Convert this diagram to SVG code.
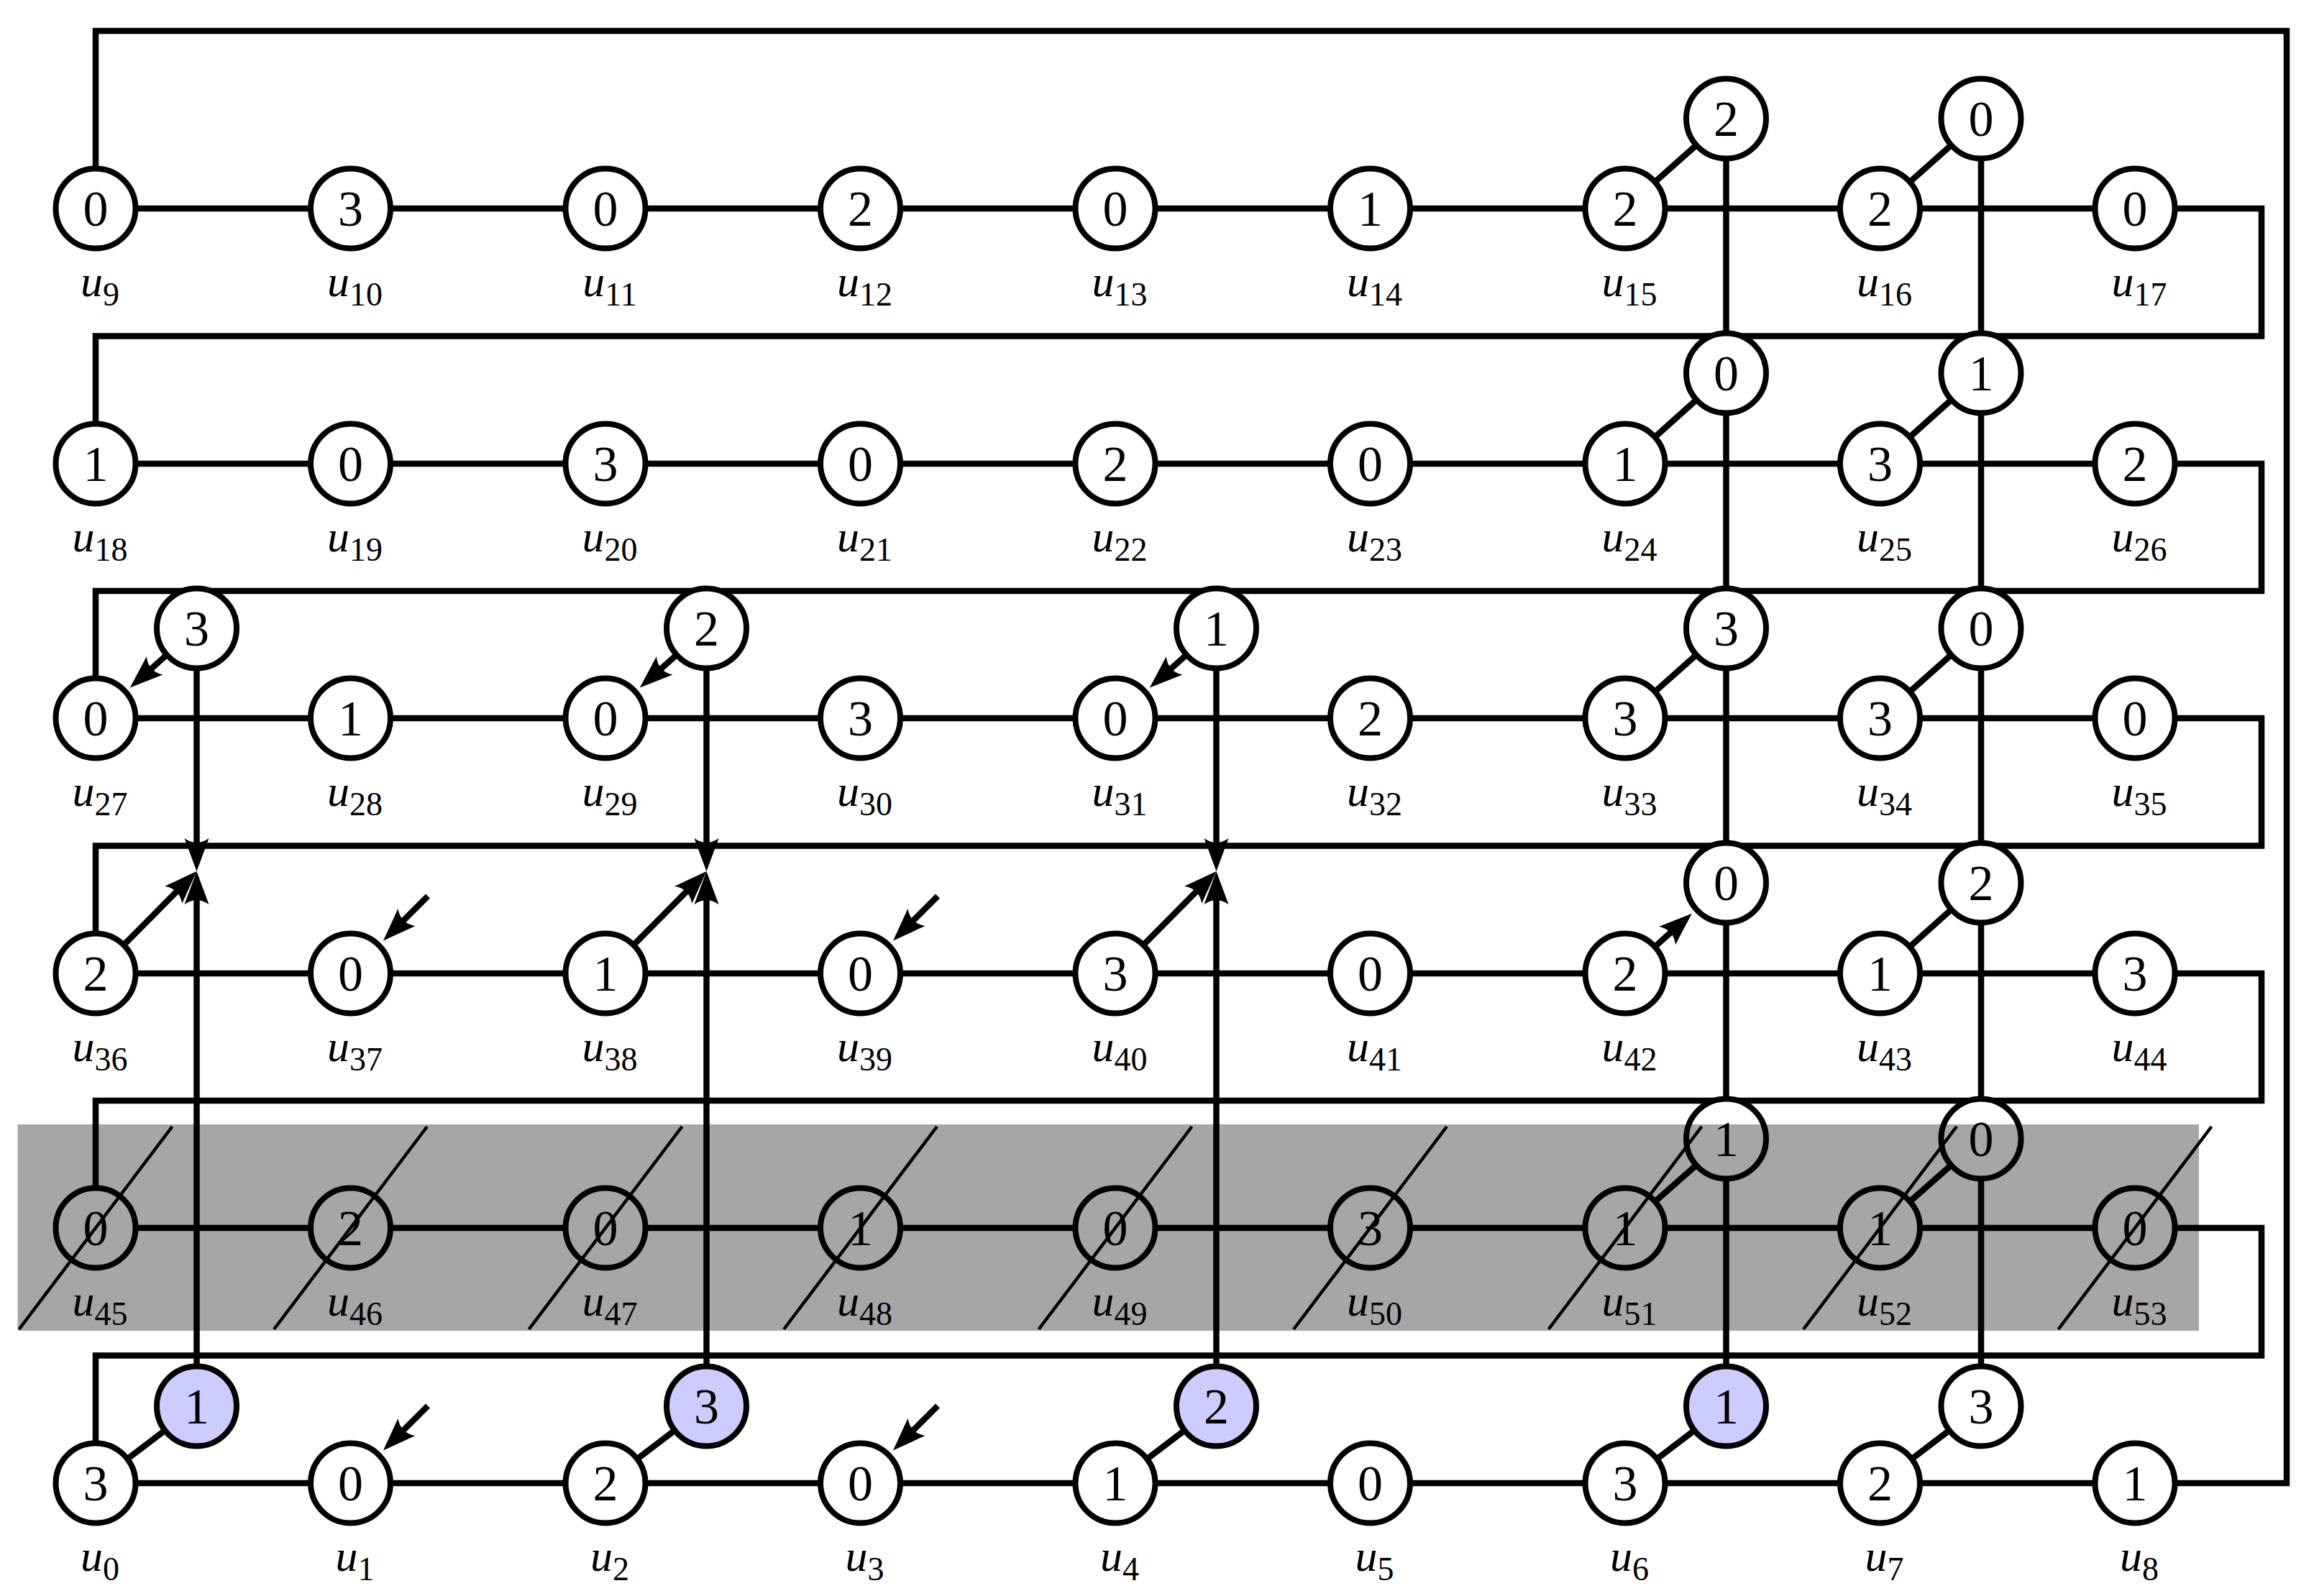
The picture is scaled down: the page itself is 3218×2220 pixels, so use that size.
<svg xmlns="http://www.w3.org/2000/svg" width="3218" height="2220" viewBox="0 0 3218 2220">
<style>
.ln{fill:none;stroke:#000;stroke-width:8.5;stroke-linejoin:miter;stroke-linecap:butt}
.ar{fill:none;stroke:#000;stroke-width:8.5;marker-end:url(#ah)}
.nd{fill:#fff;stroke:#000;stroke-width:8}
.bl{fill:#ccccff;stroke:#000;stroke-width:8}
.num{font-family:"Liberation Serif","Times New Roman",serif;font-size:70px;text-anchor:middle;fill:#000}
.lbl{font-family:"Liberation Serif","Times New Roman",serif;font-size:62px;font-style:italic;text-anchor:middle;fill:#000}
.sub{font-size:46px;font-style:normal}
.sl{stroke:#000;stroke-width:4.5;fill:none}
</style>
<defs>
<marker id="ah" markerUnits="userSpaceOnUse" orient="auto" refX="0" refY="0" markerWidth="100" markerHeight="60" viewBox="-50 -30 100 60" overflow="visible">
<path d="M30,0 L-16,-17 Q-4,0 -16,17 Z" fill="#000"/>
</marker>
</defs>
<rect width="3218" height="2220" fill="#fff"/>
<g id="connectors">
<path class="ln" d="M133,290 H3145 V467.5 H133 V645 H3145 V822 H133 V999 H3145 V1176.5 H133 V1354 H3145 V1531 H133 V1708 H3145 V1885.5 H133 V2063 H3180 V43 H133 Z"/>
<path class="ln" d="M2400.5,165 V1956 M2755,165 V1956"/>
<path class="ln" d="M2260,290 L2400.5,165 M2614.5,290 L2755,165 M2260,645 L2400.5,519 M2614.5,645 L2755,519 M2260,999 L2400.5,874 M2614.5,999 L2755,874 M2614.5,1354 L2755,1228 M2260,1708 L2400.5,1584 M2614.5,1708 L2755,1584 M133,2063 L273.5,1956 M842,2063 L982.5,1956 M1551,2063 L1691.5,1956 M2260,2063 L2400.5,1956 M2614.5,2063 L2755,1956"/>
<line class="ar" x1="229.4" y1="913.2" x2="203.2" y2="936.6"/>
<line class="ar" x1="938.4" y1="913.2" x2="912.2" y2="936.6"/>
<line class="ar" x1="1647.4" y1="913.2" x2="1621.2" y2="936.6"/>
<line class="ar" x1="273.5" y1="933" x2="273.5" y2="1182"/>
<line class="ar" x1="982.5" y1="933" x2="982.5" y2="1182"/>
<line class="ar" x1="1691.5" y1="933" x2="1691.5" y2="1182"/>
<line class="ar" x1="273.5" y1="1897" x2="273.5" y2="1242"/>
<line class="ar" x1="982.5" y1="1897" x2="982.5" y2="1242"/>
<line class="ar" x1="1691.5" y1="1897" x2="1691.5" y2="1242"/>
<line class="ar" x1="174.5" y1="1312.1" x2="252.4" y2="1233.3"/>
<line class="ar" x1="883.5" y1="1312.1" x2="961.4" y2="1233.3"/>
<line class="ar" x1="1592.5" y1="1312.1" x2="1670.4" y2="1233.3"/>
<line class="ar" x1="2303.9" y1="1314.6" x2="2330.5" y2="1290.7"/>
<line class="ar" x1="595" y1="1246.5" x2="554.2" y2="1287.3"/>
<line class="ar" x1="1304" y1="1246.5" x2="1263.2" y2="1287.3"/>
<line class="ar" x1="595" y1="1955.5" x2="554.2" y2="1996.3"/>
<line class="ar" x1="1304" y1="1955.5" x2="1263.2" y2="1996.3"/>
</g>
<!-- row 0 -->
<g id="u9"><circle class="nd" cx="133" cy="290" r="55.5"/><text class="num" x="133" y="314">0</text><text class="lbl" x="139" y="412">u<tspan class="sub" dy="13">9</tspan></text></g>
<g id="u10"><circle class="nd" cx="487.5" cy="290" r="55.5"/><text class="num" x="487.5" y="314">3</text><text class="lbl" x="493.5" y="412">u<tspan class="sub" dy="13">10</tspan></text></g>
<g id="u11"><circle class="nd" cx="842" cy="290" r="55.5"/><text class="num" x="842" y="314">0</text><text class="lbl" x="848" y="412">u<tspan class="sub" dy="13">11</tspan></text></g>
<g id="u12"><circle class="nd" cx="1196.5" cy="290" r="55.5"/><text class="num" x="1196.5" y="314">2</text><text class="lbl" x="1202.5" y="412">u<tspan class="sub" dy="13">12</tspan></text></g>
<g id="u13"><circle class="nd" cx="1551" cy="290" r="55.5"/><text class="num" x="1551" y="314">0</text><text class="lbl" x="1557" y="412">u<tspan class="sub" dy="13">13</tspan></text></g>
<g id="u14"><circle class="nd" cx="1905.5" cy="290" r="55.5"/><text class="num" x="1905.5" y="314">1</text><text class="lbl" x="1911.5" y="412">u<tspan class="sub" dy="13">14</tspan></text></g>
<g id="u15"><circle class="nd" cx="2260" cy="290" r="55.5"/><text class="num" x="2260" y="314">2</text><text class="lbl" x="2266" y="412">u<tspan class="sub" dy="13">15</tspan></text></g>
<g id="u16"><circle class="nd" cx="2614.5" cy="290" r="55.5"/><text class="num" x="2614.5" y="314">2</text><text class="lbl" x="2620.5" y="412">u<tspan class="sub" dy="13">16</tspan></text></g>
<g id="u17"><circle class="nd" cx="2969" cy="290" r="55.5"/><text class="num" x="2969" y="314">0</text><text class="lbl" x="2975" y="412">u<tspan class="sub" dy="13">17</tspan></text></g>
<!-- row 1 -->
<g id="u18"><circle class="nd" cx="133" cy="645" r="55.5"/><text class="num" x="133" y="669">1</text><text class="lbl" x="139" y="767">u<tspan class="sub" dy="13">18</tspan></text></g>
<g id="u19"><circle class="nd" cx="487.5" cy="645" r="55.5"/><text class="num" x="487.5" y="669">0</text><text class="lbl" x="493.5" y="767">u<tspan class="sub" dy="13">19</tspan></text></g>
<g id="u20"><circle class="nd" cx="842" cy="645" r="55.5"/><text class="num" x="842" y="669">3</text><text class="lbl" x="848" y="767">u<tspan class="sub" dy="13">20</tspan></text></g>
<g id="u21"><circle class="nd" cx="1196.5" cy="645" r="55.5"/><text class="num" x="1196.5" y="669">0</text><text class="lbl" x="1202.5" y="767">u<tspan class="sub" dy="13">21</tspan></text></g>
<g id="u22"><circle class="nd" cx="1551" cy="645" r="55.5"/><text class="num" x="1551" y="669">2</text><text class="lbl" x="1557" y="767">u<tspan class="sub" dy="13">22</tspan></text></g>
<g id="u23"><circle class="nd" cx="1905.5" cy="645" r="55.5"/><text class="num" x="1905.5" y="669">0</text><text class="lbl" x="1911.5" y="767">u<tspan class="sub" dy="13">23</tspan></text></g>
<g id="u24"><circle class="nd" cx="2260" cy="645" r="55.5"/><text class="num" x="2260" y="669">1</text><text class="lbl" x="2266" y="767">u<tspan class="sub" dy="13">24</tspan></text></g>
<g id="u25"><circle class="nd" cx="2614.5" cy="645" r="55.5"/><text class="num" x="2614.5" y="669">3</text><text class="lbl" x="2620.5" y="767">u<tspan class="sub" dy="13">25</tspan></text></g>
<g id="u26"><circle class="nd" cx="2969" cy="645" r="55.5"/><text class="num" x="2969" y="669">2</text><text class="lbl" x="2975" y="767">u<tspan class="sub" dy="13">26</tspan></text></g>
<!-- row 2 -->
<g id="u27"><circle class="nd" cx="133" cy="999" r="55.5"/><text class="num" x="133" y="1023">0</text><text class="lbl" x="139" y="1121">u<tspan class="sub" dy="13">27</tspan></text></g>
<g id="u28"><circle class="nd" cx="487.5" cy="999" r="55.5"/><text class="num" x="487.5" y="1023">1</text><text class="lbl" x="493.5" y="1121">u<tspan class="sub" dy="13">28</tspan></text></g>
<g id="u29"><circle class="nd" cx="842" cy="999" r="55.5"/><text class="num" x="842" y="1023">0</text><text class="lbl" x="848" y="1121">u<tspan class="sub" dy="13">29</tspan></text></g>
<g id="u30"><circle class="nd" cx="1196.5" cy="999" r="55.5"/><text class="num" x="1196.5" y="1023">3</text><text class="lbl" x="1202.5" y="1121">u<tspan class="sub" dy="13">30</tspan></text></g>
<g id="u31"><circle class="nd" cx="1551" cy="999" r="55.5"/><text class="num" x="1551" y="1023">0</text><text class="lbl" x="1557" y="1121">u<tspan class="sub" dy="13">31</tspan></text></g>
<g id="u32"><circle class="nd" cx="1905.5" cy="999" r="55.5"/><text class="num" x="1905.5" y="1023">2</text><text class="lbl" x="1911.5" y="1121">u<tspan class="sub" dy="13">32</tspan></text></g>
<g id="u33"><circle class="nd" cx="2260" cy="999" r="55.5"/><text class="num" x="2260" y="1023">3</text><text class="lbl" x="2266" y="1121">u<tspan class="sub" dy="13">33</tspan></text></g>
<g id="u34"><circle class="nd" cx="2614.5" cy="999" r="55.5"/><text class="num" x="2614.5" y="1023">3</text><text class="lbl" x="2620.5" y="1121">u<tspan class="sub" dy="13">34</tspan></text></g>
<g id="u35"><circle class="nd" cx="2969" cy="999" r="55.5"/><text class="num" x="2969" y="1023">0</text><text class="lbl" x="2975" y="1121">u<tspan class="sub" dy="13">35</tspan></text></g>
<!-- row 3 -->
<g id="u36"><circle class="nd" cx="133" cy="1354" r="55.5"/><text class="num" x="133" y="1378">2</text><text class="lbl" x="139" y="1476">u<tspan class="sub" dy="13">36</tspan></text></g>
<g id="u37"><circle class="nd" cx="487.5" cy="1354" r="55.5"/><text class="num" x="487.5" y="1378">0</text><text class="lbl" x="493.5" y="1476">u<tspan class="sub" dy="13">37</tspan></text></g>
<g id="u38"><circle class="nd" cx="842" cy="1354" r="55.5"/><text class="num" x="842" y="1378">1</text><text class="lbl" x="848" y="1476">u<tspan class="sub" dy="13">38</tspan></text></g>
<g id="u39"><circle class="nd" cx="1196.5" cy="1354" r="55.5"/><text class="num" x="1196.5" y="1378">0</text><text class="lbl" x="1202.5" y="1476">u<tspan class="sub" dy="13">39</tspan></text></g>
<g id="u40"><circle class="nd" cx="1551" cy="1354" r="55.5"/><text class="num" x="1551" y="1378">3</text><text class="lbl" x="1557" y="1476">u<tspan class="sub" dy="13">40</tspan></text></g>
<g id="u41"><circle class="nd" cx="1905.5" cy="1354" r="55.5"/><text class="num" x="1905.5" y="1378">0</text><text class="lbl" x="1911.5" y="1476">u<tspan class="sub" dy="13">41</tspan></text></g>
<g id="u42"><circle class="nd" cx="2260" cy="1354" r="55.5"/><text class="num" x="2260" y="1378">2</text><text class="lbl" x="2266" y="1476">u<tspan class="sub" dy="13">42</tspan></text></g>
<g id="u43"><circle class="nd" cx="2614.5" cy="1354" r="55.5"/><text class="num" x="2614.5" y="1378">1</text><text class="lbl" x="2620.5" y="1476">u<tspan class="sub" dy="13">43</tspan></text></g>
<g id="u44"><circle class="nd" cx="2969" cy="1354" r="55.5"/><text class="num" x="2969" y="1378">3</text><text class="lbl" x="2975" y="1476">u<tspan class="sub" dy="13">44</tspan></text></g>
<!-- row 4 -->
<g id="u45"><circle class="nd" cx="133" cy="1708" r="55.5"/><text class="num" x="133" y="1732">0</text><text class="lbl" x="139" y="1830">u<tspan class="sub" dy="13">45</tspan></text></g>
<g id="u46"><circle class="nd" cx="487.5" cy="1708" r="55.5"/><text class="num" x="487.5" y="1732">2</text><text class="lbl" x="493.5" y="1830">u<tspan class="sub" dy="13">46</tspan></text></g>
<g id="u47"><circle class="nd" cx="842" cy="1708" r="55.5"/><text class="num" x="842" y="1732">0</text><text class="lbl" x="848" y="1830">u<tspan class="sub" dy="13">47</tspan></text></g>
<g id="u48"><circle class="nd" cx="1196.5" cy="1708" r="55.5"/><text class="num" x="1196.5" y="1732">1</text><text class="lbl" x="1202.5" y="1830">u<tspan class="sub" dy="13">48</tspan></text></g>
<g id="u49"><circle class="nd" cx="1551" cy="1708" r="55.5"/><text class="num" x="1551" y="1732">0</text><text class="lbl" x="1557" y="1830">u<tspan class="sub" dy="13">49</tspan></text></g>
<g id="u50"><circle class="nd" cx="1905.5" cy="1708" r="55.5"/><text class="num" x="1905.5" y="1732">3</text><text class="lbl" x="1911.5" y="1830">u<tspan class="sub" dy="13">50</tspan></text></g>
<g id="u51"><circle class="nd" cx="2260" cy="1708" r="55.5"/><text class="num" x="2260" y="1732">1</text><text class="lbl" x="2266" y="1830">u<tspan class="sub" dy="13">51</tspan></text></g>
<g id="u52"><circle class="nd" cx="2614.5" cy="1708" r="55.5"/><text class="num" x="2614.5" y="1732">1</text><text class="lbl" x="2620.5" y="1830">u<tspan class="sub" dy="13">52</tspan></text></g>
<g id="u53"><circle class="nd" cx="2969" cy="1708" r="55.5"/><text class="num" x="2969" y="1732">0</text><text class="lbl" x="2975" y="1830">u<tspan class="sub" dy="13">53</tspan></text></g>
<!-- row 5 -->
<g id="u0"><circle class="nd" cx="133" cy="2063" r="55.5"/><text class="num" x="133" y="2087">3</text><text class="lbl" x="139" y="2185">u<tspan class="sub" dy="13">0</tspan></text></g>
<g id="u1"><circle class="nd" cx="487.5" cy="2063" r="55.5"/><text class="num" x="487.5" y="2087">0</text><text class="lbl" x="493.5" y="2185">u<tspan class="sub" dy="13">1</tspan></text></g>
<g id="u2"><circle class="nd" cx="842" cy="2063" r="55.5"/><text class="num" x="842" y="2087">2</text><text class="lbl" x="848" y="2185">u<tspan class="sub" dy="13">2</tspan></text></g>
<g id="u3"><circle class="nd" cx="1196.5" cy="2063" r="55.5"/><text class="num" x="1196.5" y="2087">0</text><text class="lbl" x="1202.5" y="2185">u<tspan class="sub" dy="13">3</tspan></text></g>
<g id="u4"><circle class="nd" cx="1551" cy="2063" r="55.5"/><text class="num" x="1551" y="2087">1</text><text class="lbl" x="1557" y="2185">u<tspan class="sub" dy="13">4</tspan></text></g>
<g id="u5"><circle class="nd" cx="1905.5" cy="2063" r="55.5"/><text class="num" x="1905.5" y="2087">0</text><text class="lbl" x="1911.5" y="2185">u<tspan class="sub" dy="13">5</tspan></text></g>
<g id="u6"><circle class="nd" cx="2260" cy="2063" r="55.5"/><text class="num" x="2260" y="2087">3</text><text class="lbl" x="2266" y="2185">u<tspan class="sub" dy="13">6</tspan></text></g>
<g id="u7"><circle class="nd" cx="2614.5" cy="2063" r="55.5"/><text class="num" x="2614.5" y="2087">2</text><text class="lbl" x="2620.5" y="2185">u<tspan class="sub" dy="13">7</tspan></text></g>
<g id="u8"><circle class="nd" cx="2969" cy="2063" r="55.5"/><text class="num" x="2969" y="2087">1</text><text class="lbl" x="2975" y="2185">u<tspan class="sub" dy="13">8</tspan></text></g>
<!-- auxiliary nodes -->
<g id="a15"><circle class="nd" cx="2400.5" cy="165" r="55.5"/><text class="num" x="2400.5" y="189">2</text></g>
<g id="a16"><circle class="nd" cx="2755" cy="165" r="55.5"/><text class="num" x="2755" y="189">0</text></g>
<g id="a24"><circle class="nd" cx="2400.5" cy="519" r="55.5"/><text class="num" x="2400.5" y="543">0</text></g>
<g id="a25"><circle class="nd" cx="2755" cy="519" r="55.5"/><text class="num" x="2755" y="543">1</text></g>
<g id="a27"><circle class="nd" cx="273.5" cy="874" r="55.5"/><text class="num" x="273.5" y="898">3</text></g>
<g id="a29"><circle class="nd" cx="982.5" cy="874" r="55.5"/><text class="num" x="982.5" y="898">2</text></g>
<g id="a31"><circle class="nd" cx="1691.5" cy="874" r="55.5"/><text class="num" x="1691.5" y="898">1</text></g>
<g id="a33"><circle class="nd" cx="2400.5" cy="874" r="55.5"/><text class="num" x="2400.5" y="898">3</text></g>
<g id="a34"><circle class="nd" cx="2755" cy="874" r="55.5"/><text class="num" x="2755" y="898">0</text></g>
<g id="a42"><circle class="nd" cx="2400.5" cy="1228" r="55.5"/><text class="num" x="2400.5" y="1252">0</text></g>
<g id="a43"><circle class="nd" cx="2755" cy="1228" r="55.5"/><text class="num" x="2755" y="1252">2</text></g>
<g id="a51"><circle class="nd" cx="2400.5" cy="1584" r="55.5"/><text class="num" x="2400.5" y="1608">1</text></g>
<g id="a52"><circle class="nd" cx="2755" cy="1584" r="55.5"/><text class="num" x="2755" y="1608">0</text></g>
<g id="a0"><circle class="bl" cx="273.5" cy="1956" r="55.5"/><text class="num" x="273.5" y="1980">1</text></g>
<g id="a2"><circle class="bl" cx="982.5" cy="1956" r="55.5"/><text class="num" x="982.5" y="1980">3</text></g>
<g id="a4"><circle class="bl" cx="1691.5" cy="1956" r="55.5"/><text class="num" x="1691.5" y="1980">2</text></g>
<g id="a6"><circle class="bl" cx="2400.5" cy="1956" r="55.5"/><text class="num" x="2400.5" y="1980">1</text></g>
<g id="a7"><circle class="nd" cx="2755" cy="1956" r="55.5"/><text class="num" x="2755" y="1980">3</text></g>
<!-- shaded band and strike-through lines -->
<g id="band">
<rect x="24.5" y="1564" width="3033.5" height="287" fill="#000" fill-opacity="0.35"/>
<path class="sl" d="M26.5,1849 L239.5,1567 M381,1849 L594,1567 M735.5,1849 L948.5,1567 M1090,1849 L1303,1567 M1444.5,1849 L1657.5,1567 M1799,1849 L2012,1567 M2153.5,1849 L2366.5,1567 M2508,1849 L2721,1567 M2862.5,1849 L3075.5,1567"/>
</g>
</svg>
